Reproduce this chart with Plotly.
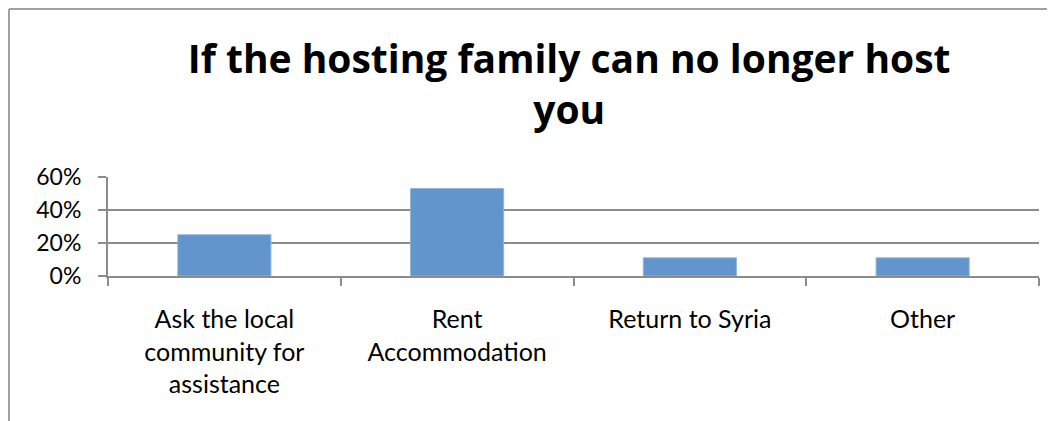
import plotly.graph_objects as go

categories = ["Ask the local<br>community for<br>assistance", "Rent<br>Accommodation", "Return to Syria", "Other"]
values = [25, 53, 11, 11]
y_ticks = [0, 20, 40, 60]
y_tick_labels = ["0%", "20%", "40%", "60%"]
title_text = "If the hosting family can no longer host<br>you"

# page body has an 8px margin, so the figure starts at (8, 8) of the window
W, H = 1047, 413
L, R, T, B = 100, 16, 169, 145  # plot area edges in px
pw, ph = W - L - R, H - T - B

def px_x(px):
    return (px - L) / pw

def px_y(py):
    return (H - B - py) / ph

fig = go.Figure()
fig.add_trace(go.Bar(
    x=categories, y=values,
    marker=dict(color="#6195cb", line=dict(color="#8fb4dc", width=1)),
    width=0.4,
))

fig.update_layout(
    width=W, height=H,
    margin=dict(l=L, r=R, t=T, b=B),
    paper_bgcolor="white", plot_bgcolor="white",
    showlegend=False,
    font=dict(family="Lato", color="black"),
    title=dict(
        text=title_text, x=0.536, xanchor="center", xref="container",
        y=1 - 65 / H, yanchor="top", yref="container",
        font=dict(family="Open Sans", size=39, color="black", weight="bold"),
    ),
    xaxis=dict(
        automargin=False,
        showline=True, linecolor="#8c8c8c", linewidth=2,
        ticks="outside", ticklen=8, tickcolor="#8c8c8c", tickwidth=2,
        tickson="boundaries", showgrid=False,
        tickfont=dict(size=25, color="black"),
        ticklabelstandoff=20,
    ),
    yaxis=dict(
        automargin=False,
        range=[0, 60], tickvals=y_ticks, ticktext=y_tick_labels,
        showline=True, linecolor="#8c8c8c", linewidth=2,
        ticks="outside", ticklen=8, tickcolor="#8c8c8c", tickwidth=2,
        showgrid=True, gridcolor="#8c8c8c", gridwidth=2, zeroline=False,
        tickfont=dict(size=23, color="black"),
        ticklabelstandoff=12,
    ),
    shapes=[
        # chart frame (cut off at right/bottom like the source)
        dict(type="line", xref="paper", yref="paper",
             x0=px_x(1), x1=px_x(1), y0=px_y(1), y1=px_y(H + 5),
             line=dict(color="#a0a0a0", width=2)),
        dict(type="line", xref="paper", yref="paper",
             x0=px_x(1), x1=px_x(W + 5), y0=px_y(1), y1=px_y(1),
             line=dict(color="#a0a0a0", width=2)),
    ],
)

fig.write_html("out.html")
